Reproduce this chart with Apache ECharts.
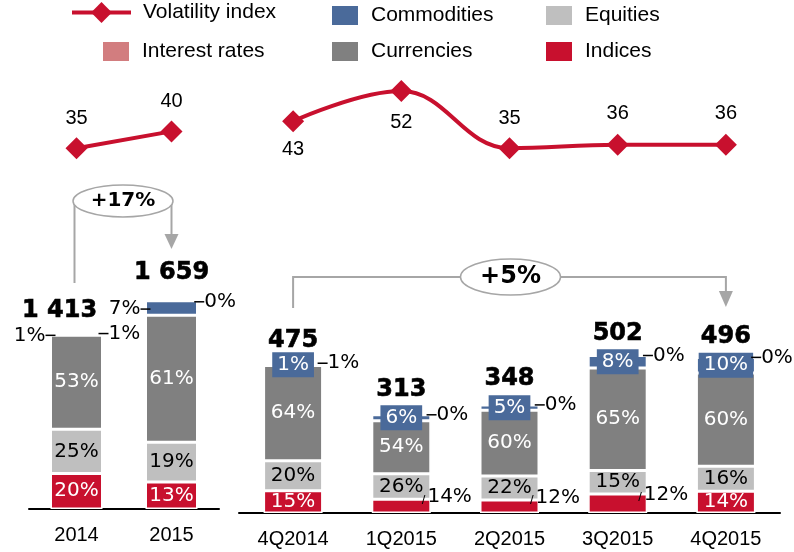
<!DOCTYPE html>
<html><head><meta charset="utf-8">
<script src="https://cdn.jsdelivr.net/npm/echarts@6/dist/echarts.min.js"></script>
<style>html,body{margin:0;padding:0;background:#fff}#c{width:794px;height:552px}</style>
</head><body><div id="c"></div>
<script>
// ---- data ----
const annualCats = ['2014', '2015'];
const annualTotals = [1413, 1659];
const annualIndices = [20, 13];
const annualEquities = [25, 19];
const annualCurrencies = [53, 61];
const annualCommodities = [1, 7];
const annualInterest = [1, 0];
const annualVol = [35, 40];

const qCats = ['4Q2014', '1Q2015', '2Q2015', '3Q2015', '4Q2015'];
const qTotals = [475, 313, 348, 502, 496];
const qIndices = [15, 14, 12, 12, 14];
const qEquities = [20, 26, 22, 15, 16];
const qCurrencies = [64, 54, 60, 65, 60];
const qCommodities = [1, 6, 5, 8, 10];
const qInterest = [1, 0, 0, 0, 0];
const qVol = [43, 52, 35, 36, 36];

const annualGrowth = '+17%';
const quarterGrowth = '+5%';

// ---- style / layout ----
const FN = 'Liberation Sans';
const FV = 'DejaVu Sans';
const C = { vol: '#C8102E', com: '#4A6A9A', eq: '#BFBFBF', ir: '#D27D7F', cur: '#808080', ind: '#C8102E' };
const qIndicesOutside = [false, true, true, true, false];
const qVolLabelPos = ['bottom', 'bottom', 'top', 'top', 'top'];
const qVolLabelDist = [7, 10, 9, 10, 10];
const annualTotalDist = [8, 16];
const annualTotalOffset = [[-17, 0], [0, 0]];
const qTotalDist = [11, 13, 13, 9, 8];
const PF = 20;

const chart = echarts.init(document.getElementById('c'));

const dash = { width: 10, height: 1.5, backgroundColor: '#000' };
const tx = { fontFamily: FV, fontSize: PF, color: '#000' };

function barSeries(name, color, shares, totals, idx, barWidth, label, itemLabels) {
  return {
    name, type: 'bar', stack: 's' + idx, xAxisIndex: idx, yAxisIndex: idx, barWidth,
    itemStyle: { color, borderColor: '#fff', borderWidth: 1.5 },
    label: Object.assign({ show: true, fontFamily: FV, fontSize: PF }, label),
    data: totals.map((t, i) => {
      const it = { value: t * shares[i] / 100 };
      if (itemLabels && itemLabels[i]) it.label = itemLabels[i];
      return it;
    })
  };
}

function fmtTotal(v) {
  return String(v).replace(/\B(?=(\d{3})+(?!\d))/g, ' ');
}

const series = [];
// annual bars
series.push(barSeries('Indices', C.ind, annualIndices, annualTotals, 0, 52,
  { position: 'inside', color: '#fff', formatter: p => annualIndices[p.dataIndex] + '%' }));
series.push(barSeries('Equities', C.eq, annualEquities, annualTotals, 0, 52,
  { position: 'inside', color: '#000', formatter: p => annualEquities[p.dataIndex] + '%' }));
series.push(barSeries('Currencies', C.cur, annualCurrencies, annualTotals, 0, 52,
  { position: 'inside', color: '#fff', formatter: p => annualCurrencies[p.dataIndex] + '%' }));
series.push(barSeries('Commodities', C.com, annualCommodities, annualTotals, 0, 52,
  { position: 'left', distance: 0, offset: [5, 1], formatter: p => '{t|' + annualCommodities[p.dataIndex] + '%}{d| }', rich: { t: tx, d: dash } }));
series.push(barSeries('Interest rates', C.ir, annualInterest, annualTotals, 0, 52,
  { position: 'right', distance: 0, offset: [-4, 1], formatter: p => '{d| }{t|' + annualInterest[p.dataIndex] + '%}', rich: { t: tx, d: dash } }));

// quarterly bars
series.push(barSeries('Indices', C.ind, qIndices, qTotals, 1, 59,
  { position: 'inside', color: '#fff',
    formatter: p => qIndicesOutside[p.dataIndex] ? '{s|/}{t|' + qIndices[p.dataIndex] + '%}' : qIndices[p.dataIndex] + '%',
    rich: { t: tx, s: { fontFamily: FN, fontSize: 13, color: '#000', padding: [6, 2, 0, 0] } } },
  qIndicesOutside.map(o => o ? { position: 'right', distance: 0, offset: [-9, -9], color: '#000' } : null)));
series.push(barSeries('Equities', C.eq, qEquities, qTotals, 1, 59,
  { position: 'inside', color: '#000', formatter: p => qEquities[p.dataIndex] + '%' }));
series.push(barSeries('Currencies', C.cur, qCurrencies, qTotals, 1, 59,
  { position: 'inside', color: '#fff', formatter: p => qCurrencies[p.dataIndex] + '%' }));
series.push(barSeries('Commodities', C.com, qCommodities, qTotals, 1, 59,
  { position: 'inside', color: '#fff', backgroundColor: C.com, padding: [3, 5, 2, 5], formatter: p => qCommodities[p.dataIndex] + '%' }));
series.push(barSeries('Interest rates', C.ir, qInterest, qTotals, 1, 59,
  { position: 'right', distance: 0, offset: [-5, 0], formatter: p => '{d| }{t|' + qInterest[p.dataIndex] + '%}', rich: { t: tx, d: dash } }));

// totals
const totalLabel = { show: true, position: 'top', fontFamily: FV, fontWeight: 'bold', fontSize: 24, color: '#000',
  textBorderColor: '#000', textBorderWidth: 0.6, opacity: 1, formatter: p => fmtTotal(p.value) };
const hidden = { color: 'rgba(255,255,255,0)' };
series.push({
  type: 'scatter', xAxisIndex: 0, yAxisIndex: 0, symbolSize: 1, itemStyle: hidden, silent: true, z: 5,
  label: totalLabel,
  data: annualTotals.map((v, i) => ({ value: v, label: { distance: annualTotalDist[i], offset: annualTotalOffset[i] } }))
});
series.push({
  type: 'scatter', xAxisIndex: 1, yAxisIndex: 1, symbolSize: 1, itemStyle: hidden, silent: true, z: 5,
  label: totalLabel,
  data: qTotals.map((v, i) => ({ value: v, label: { distance: qTotalDist[i] } }))
});

// volatility lines
const volLabel = { show: true, fontFamily: FN, fontSize: 20, color: '#000', position: 'top', distance: 9 };
series.push({
  name: 'Volatility index', type: 'line', xAxisIndex: 2, yAxisIndex: 2,
  symbol: 'diamond', symbolSize: 22, lineStyle: { width: 4, color: C.vol }, itemStyle: { color: C.vol },
  label: volLabel, data: annualVol.slice()
});
series.push({
  name: 'Volatility index', type: 'line', xAxisIndex: 3, yAxisIndex: 3, smooth: 0.4,
  symbol: 'diamond', symbolSize: 22, lineStyle: { width: 4, color: C.vol }, itemStyle: { color: C.vol },
  label: volLabel,
  data: qVol.map((v, i) => ({ value: v, label: { position: qVolLabelPos[i], distance: qVolLabelDist[i] } }))
});

function lg(name, left, top, w, h, icon) {
  const o = {
    data: [name], left, top, itemWidth: w, itemHeight: h, padding: 0, selectedMode: false,
    textStyle: { fontFamily: FN, fontSize: 21, color: '#000', padding: [0, 0, 0, 7] }
  };
  if (icon) o.icon = icon;
  else o.lineStyle = { width: 4 };
  return o;
}

const axisLbl = { fontFamily: FN, fontSize: 20, color: '#000' };
const catAxis = (data, gi, show) => ({
  type: 'category', gridIndex: gi, data, show,
  axisLine: { show: true, lineStyle: { color: '#000', width: 2 } },
  axisTick: { show: false },
  axisLabel: Object.assign({ margin: 16 }, axisLbl)
});
const valAxis = (gi, min, max) => ({ type: 'value', gridIndex: gi, min, max, show: false, splitLine: { show: false } });

chart.setOption({
  animation: false,
  backgroundColor: '#fff',
  legend: [
    lg('Volatility index', 70, 2, 59, 26),
    lg('Commodities', 330, 4, 28, 21, 'rect'),
    lg('Equities', 544, 4, 28, 21, 'rect'),
    lg('Interest rates', 101, 40, 28, 21, 'rect'),
    lg('Currencies', 330, 40, 28, 21, 'rect'),
    lg('Indices', 544, 40, 28, 21, 'rect')
  ],
  grid: [
    { left: 29, width: 190, top: 258, height: 251 },
    { left: 239, width: 541, top: 262, height: 251 },
    { left: 29, width: 190, top: 81, height: 84 },
    { left: 239, width: 541, top: 81, height: 84 }
  ],
  xAxis: [
    catAxis(annualCats, 0, true),
    catAxis(qCats, 1, true),
    catAxis(annualCats, 2, false),
    catAxis(qCats, 3, false)
  ],
  yAxis: [valAxis(0, 0, 2000), valAxis(1, 0, 800), valAxis(2, 30, 55), valAxis(3, 30, 55)],
  series
});

// ---- growth annotations ----
const x14 = chart.convertToPixel({ xAxisIndex: 0 }, annualCats[0]);
const x15 = chart.convertToPixel({ xAxisIndex: 0 }, annualCats[1]);
const xa = chart.convertToPixel({ xAxisIndex: 1 }, qCats[0]);
const xb = chart.convertToPixel({ xAxisIndex: 1 }, qCats[qCats.length - 1]);
const G = '#A6A6A6';
const ln = { stroke: G, lineWidth: 2, fill: null };
chart.setOption({
  graphic: [
    { type: 'polyline', shape: { points: [[x14 - 2, 201], [x14 - 2, 283]] }, style: ln, z: 10 },
    { type: 'polyline', shape: { points: [[x15, 201], [x15, 236]] }, style: ln, z: 10 },
    { type: 'polygon', shape: { points: [[x15 - 7, 234], [x15 + 7, 234], [x15, 249]] }, style: { fill: G }, z: 10 },
    { type: 'ellipse', shape: { cx: (x14 + x15) / 2 - 1, cy: 201, rx: 50, ry: 16 }, style: { fill: '#fff', stroke: G, lineWidth: 1.5 }, z: 11 },
    { type: 'text', x: (x14 + x15) / 2 - 1, y: 201, style: { text: annualGrowth, fontFamily: FV, fontWeight: 'bold', fontSize: 20, fill: '#000', align: 'center', verticalAlign: 'middle' }, z: 12 },

    { type: 'polyline', shape: { points: [[xa, 308], [xa, 277], [xb, 277], [xb, 293]] }, style: ln, z: 10 },
    { type: 'polygon', shape: { points: [[xb - 7, 291], [xb + 7, 291], [xb, 307]] }, style: { fill: G }, z: 10 },
    { type: 'ellipse', shape: { cx: (xa + xb) / 2 + 1, cy: 277, rx: 50, ry: 18 }, style: { fill: '#fff', stroke: G, lineWidth: 1.5 }, z: 11 },
    { type: 'text', x: (xa + xb) / 2 + 1, y: 277, style: { text: quarterGrowth, fontFamily: FV, fontWeight: 'bold', fontSize: 24, fill: '#000', align: 'center', verticalAlign: 'middle' }, z: 12 }
  ]
});
</script></body></html>
